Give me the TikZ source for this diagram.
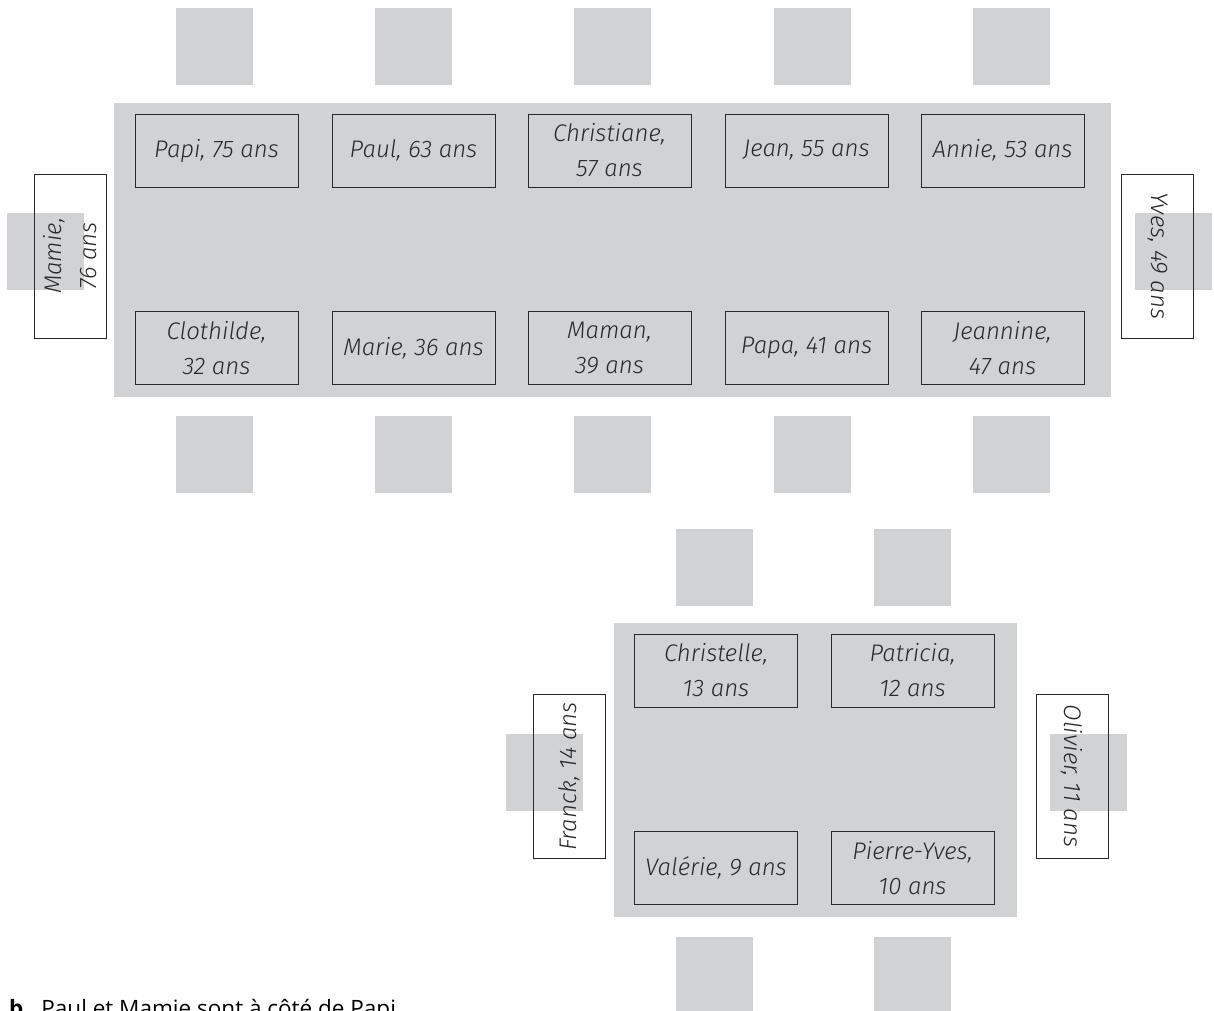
\documentclass[tikz,border=0pt]{standalone}
\usepackage{fontspec}
\setmainfont{Open Sans}
\newfontfamily\hand{Fira Sans}[UprightFont={* Light Italic}]
\definecolor{tgray}{RGB}{209,210,212}
\definecolor{cardline}{RGB}{40,40,40}
\begin{document}
\begin{tikzpicture}[x=1pt,y=-1pt,
 chair/.style={fill=tgray, draw=none, minimum width=77pt, minimum height=77pt, inner sep=0pt, outer sep=0pt},
 tablebox/.style={fill=tgray, draw=none, inner sep=0pt, outer sep=0pt},
 card/.style={draw=cardline, line width=0.9pt, minimum width=163pt, minimum height=73pt, inner sep=0pt, align=center, text=cardline, font=\hand\fontsize{24}{35}\selectfont},
 vcard/.style={card, minimum width=164pt, minimum height=72pt},
]
\clip (0,0) rectangle (1214,1010);
% big table
\node[tablebox, minimum width=997pt, minimum height=294pt] (bigtable) at (612.5,250) {};
\foreach \i/\x in {1/214.5,2/413.5,3/612.5,4/812.5,5/1011.5}{
  \node[chair] (ct\i) at (\x,46.5) {};
  \node[chair] (cb\i) at (\x,454.5) {};
}
\node[chair] (cmamie) at (45,251.5) {};
\node[chair] (cyves) at (1173.5,251) {};
\node[card] (papi) at (216.5,150.5) {Papi, 75 ans};
\node[card] (paul) at (413.5,150.5) {Paul, 63 ans};
\node[card] (christiane) at (609.5,150.5) {Christiane,\\57 ans};
\node[card] (jean) at (806.5,150.5) {Jean, 55 ans};
\node[card] (annie) at (1002.5,150.5) {Annie, 53 ans};
\node[card] (clothilde) at (216.5,348) {Clothilde,\\32 ans};
\node[card] (marie) at (413.5,348) {Marie, 36 ans};
\node[card] (maman) at (609.5,348) {Maman,\\39 ans};
\node[card] (papa) at (806.5,348) {Papa, 41 ans};
\node[card] (jeannine) at (1002.5,348) {Jeannine,\\47 ans};
\node[vcard, rotate=90] (mamie) at (70,256) {Mamie,\\76 ans};
\node[vcard, rotate=-90] (yves) at (1157.5,256) {Yves, 49 ans};
% small table
\node[tablebox, minimum width=403pt, minimum height=294pt] (smalltable) at (815.5,770) {};
\foreach \i/\x in {1/714,2/912.5}{
  \node[chair] (st\i) at (\x,567.5) {};
  \node[chair] (sb\i) at (\x,975.5) {};
}
\node[chair] (cfranck) at (544.5,772.5) {};
\node[chair] (colivier) at (1088.5,772.5) {};
\node[card] (christelle) at (716,670.5) {Christelle,\\13 ans};
\node[card] (patricia) at (912.5,670.5) {Patricia,\\12 ans};
\node[card] (valerie) at (716,868) {Valérie, 9 ans};
\node[card] (pierreyves) at (912.5,868) {Pierre-Yves,\\10 ans};
\node[vcard, rotate=90] (franck) at (569,776.5) {Franck, 14 ans};
\node[vcard, rotate=-90] (olivier) at (1072,776) {Olivier, 11 ans};
% caption
\node[anchor=base west, inner sep=0pt, font=\fontsize{22.5}{26}\selectfont] (caption) at (9,1016) {\textbf{b}\hspace{18pt}Paul et Mamie sont à côté de Papi.};
\end{tikzpicture}
\end{document}
